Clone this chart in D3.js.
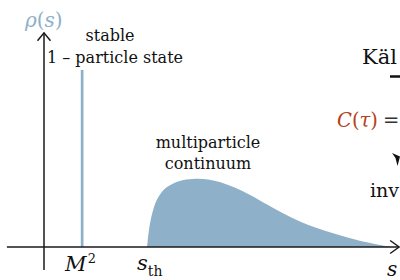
<!DOCTYPE html>
<html>
<head>
<meta charset="utf-8">
<script src="https://cdn.jsdelivr.net/npm/d3@7"></script>
<style>
  body { margin: 0; background: #fff; }
  text { font-family: "DejaVu Serif", "Liberation Serif", serif; }
</style>
</head>
<body>
<div id="chart"></div>
<script>
// spectral density
var spikeS = [1.08];          // M^2
var spikeRho = [1.0];
var contS =   [2.92, 2.95, 3.01, 3.10, 3.22, 3.40, 3.65, 3.95, 4.30, 4.65, 5.00, 5.40, 5.84, 6.32, 6.77, 7.25, 7.73, 8.19, 8.67, 9.15, 9.52, 9.86];
var contRho = [0.00, 0.060, 0.140, 0.215, 0.275, 0.325, 0.358, 0.378, 0.386, 0.382, 0.366, 0.336, 0.294, 0.240, 0.190, 0.144, 0.107, 0.078, 0.050, 0.027, 0.011, 0.00];
var tickS = [1.08, 2.92];

var width = 400, height = 280;
var blue = '#8eb0c8';

var x = d3.scaleLinear().domain([0, 10]).range([44, 397]);
var y = d3.scaleLinear().domain([0, 1]).range([247, 70]);

var svg = d3.select('#chart').append('svg')
    .attr('width', width)
    .attr('height', height);

// continuum
var cont = contS.map(function(s, i) { return {s: s, rho: contRho[i]}; });
var area = d3.area()
    .x(function(d) { return x(d.s); })
    .y0(y(0))
    .y1(function(d) { return y(d.rho); })
    .curve(d3.curveCatmullRom.alpha(0.5));
svg.append('path')
    .datum(cont)
    .attr('d', area)
    .attr('fill', blue);

// stable particle delta peak
svg.selectAll('.spike')
    .data(spikeS)
  .enter().append('line')
    .attr('class', 'spike')
    .attr('x1', function(d) { return x(d); })
    .attr('x2', function(d) { return x(d); })
    .attr('y1', y(0))
    .attr('y2', function(d, i) { return y(spikeRho[i]); })
    .attr('stroke', blue)
    .attr('stroke-width', 2.7);

// axes with open arrow heads
var axisColor = '#1a1a1a';
svg.append('line')
    .attr('x1', x(-1.05)).attr('x2', x(10.06))
    .attr('y1', y(0)).attr('y2', y(0))
    .attr('stroke', axisColor).attr('stroke-width', 1.5);
svg.append('path')
    .attr('d', 'M' + (x(10.06) - 9) + ',' + (y(0) - 6.5) + 'L' + x(10.06) + ',' + y(0) + 'L' + (x(10.06) - 9) + ',' + (y(0) + 6.5))
    .attr('fill', 'none').attr('stroke', axisColor).attr('stroke-width', 1.5);

svg.append('line')
    .attr('x1', x(0)).attr('x2', x(0))
    .attr('y1', y(-0.13)).attr('y2', y(1.21))
    .attr('stroke', axisColor).attr('stroke-width', 1.5);
svg.append('path')
    .attr('d', 'M' + (x(0) - 6.5) + ',' + (y(1.21) + 8) + 'L' + x(0) + ',' + y(1.21) + 'L' + (x(0) + 6.5) + ',' + (y(1.21) + 8))
    .attr('fill', 'none').attr('stroke', axisColor).attr('stroke-width', 1.5);

// axis labels
var rhoLabel = svg.append('text')
    .attr('x', 25).attr('y', 27)
    .attr('font-size', 20).attr('fill', blue);
rhoLabel.append('tspan').attr('font-style', 'italic').text('ρ');
rhoLabel.append('tspan').text('(');
rhoLabel.append('tspan').attr('font-style', 'italic').text('s');
rhoLabel.append('tspan').text(')');

svg.append('text')
    .attr('x', 387).attr('y', 276)
    .attr('font-size', 20).attr('font-style', 'italic')
    .attr('fill', '#111').text('s');

// tick labels under the axis
var m2 = svg.append('text')
    .attr('x', x(tickS[0]) - 17).attr('y', 271)
    .attr('font-size', 21).attr('fill', '#111');
m2.append('tspan').attr('font-style', 'italic').text('M');
m2.append('tspan').attr('font-size', 13).attr('dy', -8).attr('dx', 1).text('2');

var sth = svg.append('text')
    .attr('x', x(tickS[1]) - 10).attr('y', 270)
    .attr('font-size', 21).attr('fill', '#111');
sth.append('tspan').attr('font-style', 'italic').text('s');
sth.append('tspan').attr('font-size', 14).attr('dy', 6).text('th');

// annotations
svg.append('text')
    .attr('x', 110).attr('y', 41)
    .attr('text-anchor', 'middle')
    .attr('font-size', 16).attr('fill', '#111')
    .text('stable');
svg.append('text')
    .attr('x', 47).attr('y', 63)
    .attr('font-size', 16).attr('fill', '#111')
    .text('1 – particle state');

svg.append('text')
    .attr('x', 208).attr('y', 148)
    .attr('text-anchor', 'middle')
    .attr('font-size', 16).attr('fill', '#111')
    .text('multiparticle');
svg.append('text')
    .attr('x', 208).attr('y', 169)
    .attr('text-anchor', 'middle')
    .attr('font-size', 16).attr('fill', '#111')
    .text('continuum');

// right hand side, cut by the frame
svg.append('text')
    .attr('x', 362).attr('y', 64)
    .attr('font-size', 21).attr('fill', '#111')
    .text('Käl');
svg.append('line')
    .attr('x1', 390).attr('x2', 400)
    .attr('y1', 76.5).attr('y2', 76.5)
    .attr('stroke', '#111').attr('stroke-width', 2.5);

var ct = svg.append('text')
    .attr('x', 337).attr('y', 127)
    .attr('font-size', 19.5);
ct.append('tspan').attr('fill', '#b5401d').attr('font-style', 'italic').text('C');
ct.append('tspan').attr('fill', '#b5401d').text('(');
ct.append('tspan').attr('fill', '#b5401d').attr('font-style', 'italic').text('τ');
ct.append('tspan').attr('fill', '#b5401d').text(')');
ct.append('tspan').attr('fill', '#333').attr('dx', 5).text('=');

svg.append('path')
    .attr('d', 'M392,153L400,156.5L397.5,166L395.5,158Z')
    .attr('fill', '#111');

svg.append('text')
    .attr('x', 370).attr('y', 197)
    .attr('font-size', 19).attr('fill', '#111')
    .text('inv');
</script>
</body>
</html>
